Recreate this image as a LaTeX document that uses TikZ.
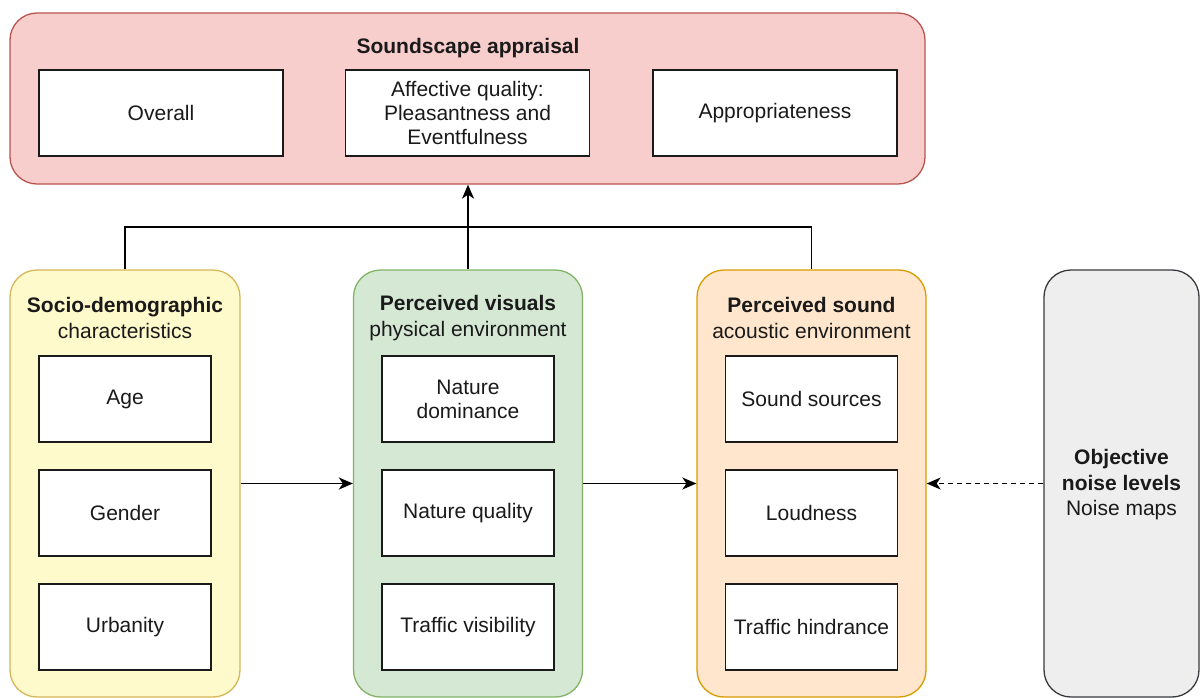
\documentclass[tikz,border=0pt]{standalone}
\usepackage{fontspec}
\setmainfont{Liberation Sans}
\usetikzlibrary{arrows.meta}
\definecolor{redfill}{HTML}{F8CECC}
\definecolor{redline}{HTML}{B85450}
\definecolor{yelfill}{HTML}{FFFACC}
\definecolor{yelline}{HTML}{D6B656}
\definecolor{grnfill}{HTML}{D5E8D4}
\definecolor{grnline}{HTML}{82B366}
\definecolor{orgfill}{HTML}{FFE6CC}
\definecolor{orgline}{HTML}{D79B00}
\definecolor{gryfill}{HTML}{EEEEEE}
\definecolor{gryline}{HTML}{36393D}
\definecolor{txt}{HTML}{1A1A1A}
\tikzset{
  cont/.style={draw, line width=1.3pt, rounded corners=27pt, inner sep=0pt},
  item/.style={draw=txt, fill=white, line width=1.6pt, minimum width=172pt, minimum height=86pt, inner sep=0pt, align=center, font=\fontsize{21}{24}\selectfont, text=txt},
  topitem/.style={item, minimum width=244pt},
  ttl/.style={font=\fontsize{21}{25.5}\selectfont, align=center, text=txt, inner sep=0pt},
  arr/.style={line width=1.6pt, draw=black, -{Stealth[length=14pt,width=12pt,inset=4pt]}},
  link/.style={line width=1.6pt, draw=black}
}
\begin{document}
\begin{tikzpicture}[x=1pt,y=-1pt]
\useasboundingbox (0,0) rectangle (1201,697);
% top container
\node[cont, fill=redfill, draw=redline, minimum width=915pt, minimum height=171pt] (app) at (467.5,98.5) {};
\node[ttl] (appt) at (468,48) {\textbf{Soundscape appraisal}};
\node[topitem] (ov) at (161,113) {Overall};
\node[topitem] (aq) at (467.5,113) {Affective quality:\\Pleasantness and\\Eventfulness};
\node[topitem] (ap) at (775,113) {Appropriateness};
% lower containers
\node[cont, fill=yelfill, draw=yelline, minimum width=230pt, minimum height=427pt] (soc) at (125,483.5) {};
\node[cont, fill=grnfill, draw=grnline, minimum width=229pt, minimum height=427pt] (vis) at (468,483.5) {};
\node[cont, fill=orgfill, draw=orgline, minimum width=229pt, minimum height=427pt] (snd) at (811.5,483.5) {};
\node[cont, fill=gryfill, draw=gryline, minimum width=155pt, minimum height=427pt] (obj) at (1121.5,483.5) {};
% titles
\node[ttl] (soct) at (125,318) {\textbf{Socio-demographic}\\characteristics};
\node[ttl] (vist) at (468,318) {\textbf{Perceived visuals}\\physical environment};
\node[ttl] (sndt) at (811.5,318) {\textbf{Perceived sound}\\acoustic environment};
\node[ttl] (objt) at (1121.5,485) {\textbf{Objective}\\\textbf{noise levels}\\Noise maps};
% items
\node[item] (age) at (125,399) {Age};
\node[item] (gen) at (125,513) {Gender};
\node[item] (urb) at (125,627) {Urbanity};
\node[item] (nd) at (468,399) {Nature\\dominance};
\node[item] (nq) at (468,513) {Nature quality};
\node[item] (tv) at (468,627) {Traffic visibility};
\node[item] (ss) at (811.5,399) {Sound sources};
\node[item] (ld) at (811.5,513) {Loudness};
\node[item] (th) at (811.5,627) {Traffic hindrance};
% connectors
\coordinate (j) at (468,227);
\draw[link] (soc.north) -- (soc.north |- j) -- (snd.north |- j) -- (snd.north);
\draw[arr] (vis.north) -- (app.south -| vis.north);
\draw[arr] (soc.east) -- (vis.west);
\draw[arr] (vis.east) -- (snd.west);
\draw[arr, dash pattern=on 5pt off 4pt] (obj.west) -- (snd.east);
\end{tikzpicture}
\end{document}
